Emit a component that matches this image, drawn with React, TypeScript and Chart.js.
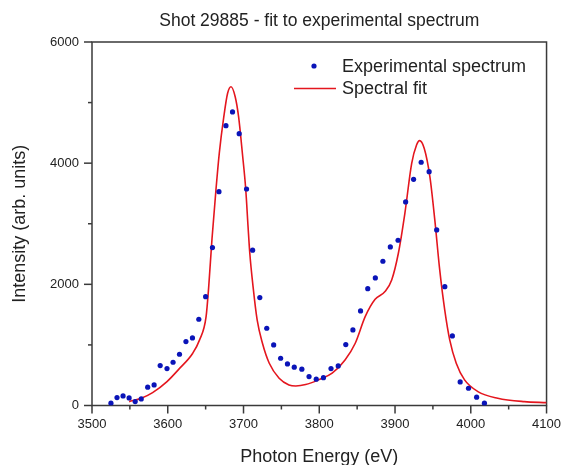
import React, { useEffect, useRef } from "react";
import { Chart, registerables } from "chart.js";

Chart.register(...registerables);

const TITLE = "Shot 29885 - fit to experimental spectrum";
const X_TITLE = "Photon Energy (eV)";
const Y_TITLE = "Intensity (arb. units)";
const EXP_LABEL = "Experimental spectrum";
const FIT_LABEL = "Spectral fit";

const X_MIN = 3500;
const X_MAX = 4100;
const Y_MIN = 0;
const Y_MAX = 6000;

const expEnergy = [
  3525, 3533, 3541, 3549, 3557, 3565, 3573.5, 3582, 3590, 3599, 3607, 3615.5,
  3624, 3632.6, 3641, 3650, 3659, 3667.6, 3676.8, 3685.5, 3694.3, 3704, 3712,
  3721.5, 3730.7, 3739.8, 3749, 3758, 3767, 3777, 3786.5, 3796, 3805.5, 3815.5,
  3825, 3835, 3844.4, 3854.5, 3864, 3874, 3884, 3893.8, 3904, 3914, 3924.5,
  3934.5, 3945, 3955, 3965.7, 3975.7, 3986, 3997, 4007.7, 4018,
];
const expIntensity = [
  38, 130, 158, 125, 65, 109, 302, 340, 659, 609, 714, 846, 1055, 1115, 1424,
  1797, 2606, 3530, 4619, 4845, 4487, 3574, 2563, 1781, 1275, 1000, 780, 686,
  632, 599, 477, 434, 460, 609, 653, 1005, 1248, 1561, 1929, 2106, 2381, 2617,
  2728, 3360, 3734, 4015, 3860, 2898, 1962, 1149, 389, 285, 137, 38,
];

const fitEnergy = [
  3549, 3565, 3580, 3599, 3615, 3633, 3642, 3650.6, 3654, 3658.4, 3663.6, 3668,
  3674, 3679, 3683.5, 3689, 3693.5, 3698.5, 3703, 3706, 3708.3, 3712.6, 3718,
  3725, 3734, 3747, 3760, 3769, 3782, 3799, 3817, 3834, 3847.5, 3860.6, 3873.7,
  3886.8, 3895.6, 3904.4, 3913, 3922, 3928.4, 3932.4, 3938.5, 3946, 3952.5,
  3959, 3965.6, 3972.2, 3980.8, 3991.8, 4009.4, 4035.6, 4070.6, 4100,
];
const fitIntensity = [
  64, 120, 213, 395, 604, 863, 1083, 1467, 1950, 2750, 3558, 4163, 4767, 5153,
  5262, 5097, 4767, 4163, 3558, 2950, 2513, 1962, 1413, 1028, 698, 450, 340,
  323, 345, 423, 533, 752, 1028, 1467, 1754, 1880, 2073, 2513, 3173, 3998,
  4300, 4372, 4246, 3777, 3063, 2238, 1578, 1083, 698, 423, 230, 120, 64, 48,
];

const FONT = '"Liberation Sans", Arial, sans-serif';
const TEXT_COLOR = "#222222";
const AXIS_COLOR = "#3a3a3a";
const EXP_COLOR = "#0a14b8";
const FIT_COLOR = "#e4161e";

const framePlugin = {
  id: "frameTicks",
  beforeDatasetsDraw(chart: any) {
    const { ctx, chartArea } = chart;
    const { left, right, top, bottom } = chartArea;
    ctx.save();
    ctx.strokeStyle = AXIS_COLOR;
    ctx.lineWidth = 1.5;
    ctx.strokeRect(left, top, right - left, bottom - top);
    const xs = chart.scales.x;
    xs.ticks.forEach((t: any) => {
      const px = xs.getPixelForValue(t.value);
      const len = t.value % 100 === 0 ? 8 : 4;
      ctx.beginPath();
      ctx.moveTo(px, bottom);
      ctx.lineTo(px, bottom + len);
      ctx.stroke();
    });
    const ys = chart.scales.y;
    ys.ticks.forEach((t: any) => {
      const py = ys.getPixelForValue(t.value);
      const len = t.value % 2000 === 0 ? 8 : 4;
      ctx.beginPath();
      ctx.moveTo(left, py);
      ctx.lineTo(left - len, py);
      ctx.stroke();
    });
    ctx.restore();
  },
  afterDraw(chart: any) {
    const { ctx, chartArea } = chart;
    ctx.save();
    // Title
    ctx.fillStyle = TEXT_COLOR;
    ctx.font = `17.5px ${FONT}`;
    ctx.textAlign = "center";
    ctx.textBaseline = "alphabetic";
    ctx.fillText(TITLE, (chartArea.left + chartArea.right) / 2, 26);
    // Legend
    const ds0 = chart.data.datasets[0];
    const ds1 = chart.data.datasets[1];
    ctx.fillStyle = ds0.backgroundColor;
    ctx.beginPath();
    ctx.arc(314, 66, 2.6, 0, Math.PI * 2);
    ctx.fill();
    ctx.strokeStyle = ds1.borderColor;
    ctx.lineWidth = ds1.borderWidth;
    ctx.beginPath();
    ctx.moveTo(294, 88.5);
    ctx.lineTo(336, 88.5);
    ctx.stroke();
    ctx.fillStyle = TEXT_COLOR;
    ctx.font = `18px ${FONT}`;
    ctx.textAlign = "left";
    ctx.textBaseline = "middle";
    ctx.fillText(ds0.label, 342, 67);
    ctx.fillText(ds1.label, 342, 89.5);
    ctx.restore();
  },
};

export default function App() {
  const ref = useRef<HTMLCanvasElement | null>(null);

  useEffect(() => {
    if (!ref.current) return;
    Chart.defaults.font.family = FONT;
    const expData = expEnergy.map((x, i) => ({ x, y: expIntensity[i] }));
    const fitData = fitEnergy.map((x, i) => ({ x, y: fitIntensity[i] }));
    const chart = new Chart(ref.current, {
      type: "scatter",
      data: {
        datasets: [
          {
            label: EXP_LABEL,
            data: expData,
            backgroundColor: EXP_COLOR,
            borderColor: EXP_COLOR,
            pointRadius: 2.6,
            pointBorderWidth: 0,
            showLine: false,
            order: 0,
          },
          {
            label: FIT_LABEL,
            data: fitData,
            borderColor: FIT_COLOR,
            backgroundColor: FIT_COLOR,
            borderWidth: 1.6,
            pointRadius: 0,
            showLine: true,
            cubicInterpolationMode: "monotone",
            order: 1,
          },
        ],
      },
      options: {
        animation: false,
        responsive: false,
        devicePixelRatio: 1,
        layout: { padding: { left: 0, right: 15, top: 42, bottom: 0 } },
        plugins: {
          legend: { display: false },
          title: { display: false },
          tooltip: { enabled: false },
        },
        scales: {
          x: {
            type: "linear",
            min: X_MIN,
            max: X_MAX,
            border: { display: false },
            grid: {
              drawOnChartArea: false,
              drawTicks: true,
              tickLength: 8,
              color: "rgba(0,0,0,0)",
            },
            ticks: {
              stepSize: 50,
              autoSkip: false,
              maxRotation: 0,
              padding: 3,
              color: TEXT_COLOR,
              font: { size: 13 },
              callback: (v: any) => (Number(v) % 100 === 0 ? String(v) : ""),
            },
            title: {
              display: true,
              text: X_TITLE,
              color: TEXT_COLOR,
              font: { size: 18, lineHeight: 0.88 },
              padding: { top: 0, bottom: 0 },
            },
            afterFit: (s: any) => {
              s.height = 59.5;
            },
          },
          y: {
            type: "linear",
            min: Y_MIN,
            max: Y_MAX,
            border: { display: false },
            grid: {
              drawOnChartArea: false,
              drawTicks: true,
              tickLength: 8,
              color: "rgba(0,0,0,0)",
            },
            ticks: {
              stepSize: 1000,
              autoSkip: false,
              padding: 5,
              color: TEXT_COLOR,
              font: { size: 13 },
              callback: (v: any) => (Number(v) % 2000 === 0 ? String(v) : ""),
            },
            title: {
              display: true,
              text: Y_TITLE,
              color: TEXT_COLOR,
              font: { size: 18, lineHeight: 1 },
              padding: { top: 11, bottom: 0 },
            },
            afterFit: (s: any) => {
              s.width = 92;
            },
          },
        },
      },
      plugins: [framePlugin],
    });
    return () => chart.destroy();
  }, []);

  return (
    <div
      style={{
        position: "fixed",
        left: 0,
        top: 0,
        width: 564,
        height: 465,
        background: "#ffffff",
      }}
    >
      <canvas ref={ref} width={564} height={465} />
    </div>
  );
}
